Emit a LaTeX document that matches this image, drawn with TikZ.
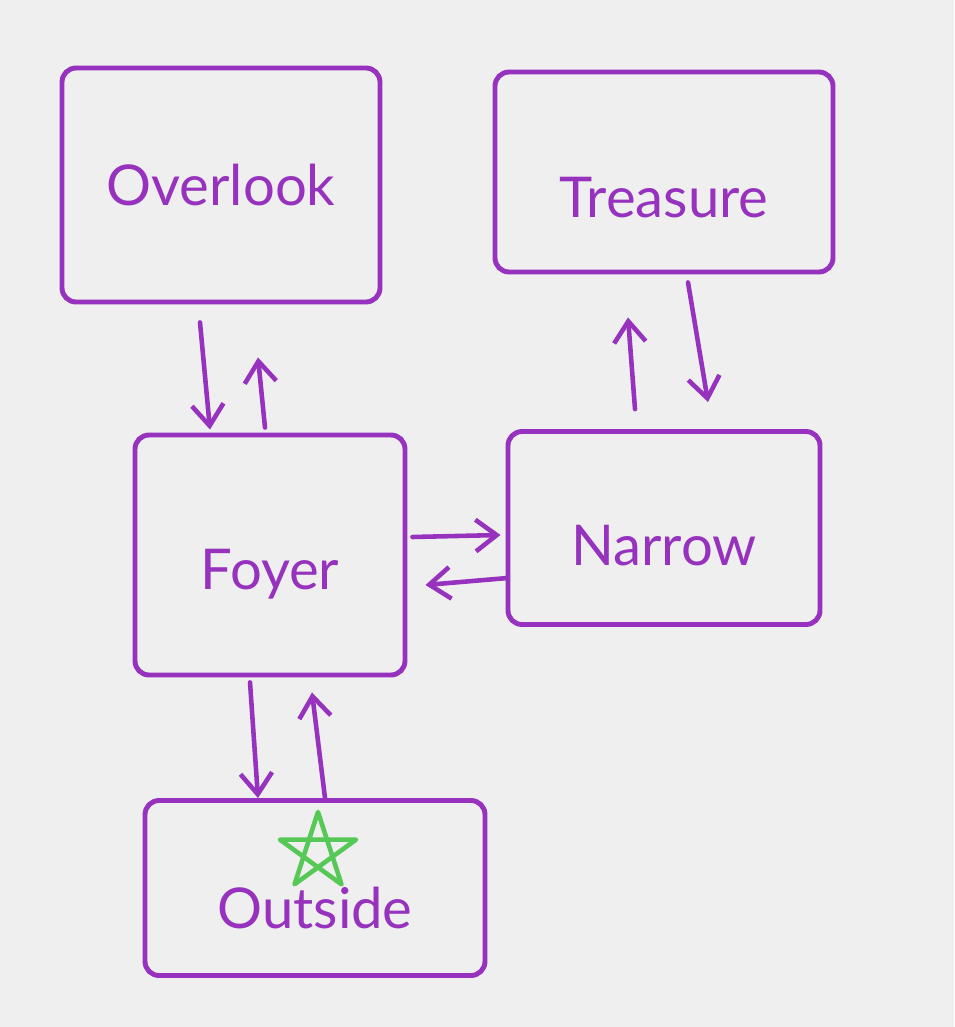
\documentclass[tikz,border=0pt]{standalone}
\usepackage{fontspec}
\setmainfont{Lato}
\usetikzlibrary{positioning, arrows.meta}
\definecolor{paperbg}{RGB}{239, 239, 239}
\definecolor{inkpurple}{RGB}{150, 50, 190}
\definecolor{inkgreen}{RGB}{85, 200, 85}

\begin{document}
\begin{tikzpicture}[
    x=0.1mm, y=-0.1mm,
    room/.style={draw=inkpurple, line width=1.4pt, rounded corners=4pt, text=inkpurple, font=\fontsize{16}{20}\selectfont, inner sep=0pt, text depth=0pt},
    link/.style={draw=inkpurple, line width=1.3pt, line cap=round, -{Straight Barb[length=6pt, width=9pt, line width=1.3pt]}},
    starline/.style={draw=inkgreen, line width=1.3pt, line join=round}
  ]
  % Fondo
  \fill[paperbg] (0,0) rectangle (954,1027);
  \useasboundingbox (0,0) rectangle (954,1027);

  % Salas
  \node[room, minimum width=3.18cm, minimum height=2.34cm] (overlook) at (221,185) {Overlook};
  \node[room, minimum width=3.38cm, minimum height=2.00cm] (treasure) at (664,172) {\raisebox{-13pt}{Treasure}};
  \node[room, minimum width=2.70cm, minimum height=2.40cm] (foyer) at (270,555) {\raisebox{-8pt}{Foyer}};
  \node[room, minimum width=3.12cm, minimum height=1.93cm] (narrow) at (664,528) {\raisebox{-10pt}{Narrow}};
  \node[room, minimum width=3.40cm, minimum height=1.75cm] (outside) at (315,888) {\raisebox{-11pt}{Outside}};

  % Estrella
  \draw[starline, shift={(318,852)}] (270:40) -- (414:40) -- (558:40) -- (702:40) -- (846:40) -- cycle;

  % Pasajes
  \draw[link] ([shift={(-21,18)}]overlook.south) -- ([shift={(-60,-3)}]foyer.north);
  \draw[link] ([shift={(-5,-5)}]foyer.north) -- ([shift={(37,53)}]overlook.south);
  \draw[link] ([shift={(-29,-20)}]narrow.north) -- ([shift={(-36,43)}]treasure.south);
  \draw[link] ([shift={(24,8)}]treasure.south) -- ([shift={(44,-27)}]narrow.north);
  \draw[link] ([shift={(5,-18)}]foyer.east) -- ([shift={(-5,7)}]narrow.west);
  \draw[link] ([shift={(2,50)}]narrow.west) -- ([shift={(18,30)}]foyer.east);
  \draw[link] ([shift={(-20,5)}]foyer.south) -- ([shift={(-57,0)}]outside.north);
  \draw[link] ([shift={(10,0)}]outside.north) -- ([shift={(42,15)}]foyer.south);
\end{tikzpicture}
\end{document}
